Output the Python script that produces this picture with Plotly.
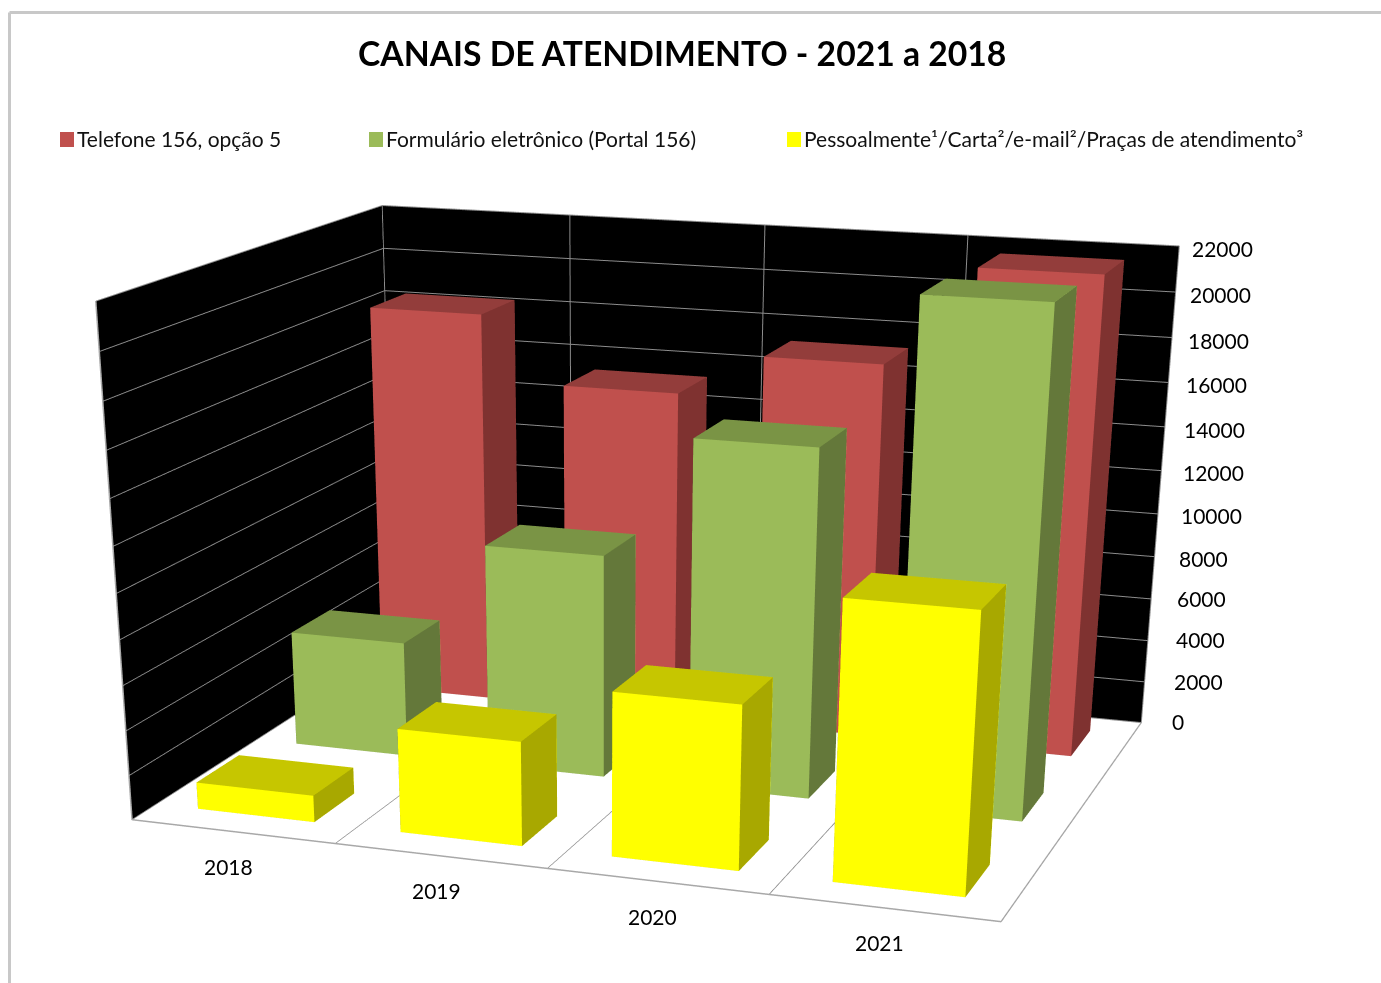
import plotly.graph_objects as go

# Chart content
TITLE = "CANAIS DE ATENDIMENTO - 2021 a 2018"
years = ["2018", "2019", "2020", "2021"]
series_names = ["Telefone 156, opção 5", "Formulário eletrônico (Portal 156)",
                "Pessoalmente¹/Carta²/e-mail²/Praças de atendimento³"]
telefone = [18300, 15300, 17200, 21600]
formulario = [5300, 10100, 15500, 22000]
pessoal = [1200, 4600, 7150, 11900]
z_ticks = list(range(0, 22001, 2000))

# Visible page area and full figure size. The figure runs past the bottom of the
# page because the scene lens has a fixed 45 degree angle: a taller scene gives a
# flatter perspective.
W, H = 1381, 983
FIG_H = 2600
SCENE_W = 1200
FONT = "Lato"

BAR_X = (0.21, 0.79)
SERIES_DEPTH = {"telefone": (2.34, 2.78), "formulario": (1.30, 1.74), "pessoal": (0.24, 0.68)}


def px(x):
    return x / W


def py(y):
    return 1 - y / FIG_H


def bar_mesh(values, depth, colours):
    """One Mesh3d holding a box per category, with flat front/side/top colours."""
    front, side, top = colours
    faces = [([0, 1, 5, 4], front), ([1, 2, 6, 5], side), ([4, 5, 6, 7], top),
             ([2, 3, 7, 6], front), ([3, 0, 4, 7], side), ([0, 3, 2, 1], top)]
    xs, ys, zs, i, j, k, fc = [], [], [], [], [], [], []
    for n, h in enumerate(values):
        x0, x1 = n + BAR_X[0], n + BAR_X[1]
        y0, y1 = depth
        base = len(xs)
        xs += [x0, x1, x1, x0] * 2
        ys += [y0, y0, y1, y1] * 2
        zs += [0] * 4 + [h] * 4
        for q, c in faces:
            i += [base + q[0], base + q[0]]
            j += [base + q[1], base + q[2]]
            k += [base + q[2], base + q[3]]
            fc += [c, c]
    return go.Mesh3d(x=xs, y=ys, z=zs, i=i, j=j, k=k, facecolor=fc, flatshading=True,
                     hoverinfo="skip",
                     lighting=dict(ambient=1, diffuse=0, specular=0, roughness=1, fresnel=0))


fig = go.Figure([
    bar_mesh(telefone, SERIES_DEPTH["telefone"], ("#C0504D", "#7F3230", "#933D3B")),
    bar_mesh(formulario, SERIES_DEPTH["formulario"], ("#9BBB59", "#64783A", "#7A9445")),
    bar_mesh(pessoal, SERIES_DEPTH["pessoal"], ("#FFFF00", "#A8A800", "#C6C600")),
])

axis = dict(showbackground=True, backgroundcolor="#000000", gridcolor="#8c8c8c", gridwidth=2,
            zeroline=False, showspikes=False, title=dict(text=""), showticklabels=False,
            showline=True, linecolor="#a8a8a8", linewidth=3, ticks="")

label_font = dict(family=FONT, size=21, color="black")
scene_notes = [dict(x=n + 0.5, y=0, z=0, text=t, showarrow=False, xshift=-4, yshift=-35, font=label_font)
               for n, t in enumerate(years)]
scene_notes += [dict(x=4, y=3, z=v, text=str(v), showarrow=False, xanchor="left",
                     xshift=29 - 18 * v / 22000, yshift=-1 - 2 * v / 22000 + 2 * (v < 8000),
                     font=label_font) for v in z_ticks]

# Legend keys and labels, the plot frame and the title sit on the page itself
legend_x = [60, 369, 787]
legend_colours = ["#C0504D", "#9BBB59", "#FFFF00"]
shapes = [dict(type="rect", xref="paper", yref="paper", x0=px(x), x1=px(x + 14),
               y0=py(147), y1=py(132), fillcolor=c, line=dict(width=0))
          for x, c in zip(legend_x, legend_colours)]
shapes += [
    dict(type="line", xref="paper", yref="paper", x0=px(9.5), x1=px(9.5), y0=py(12.5), y1=py(990),
         line=dict(color="#c8c8c8", width=3)),
    dict(type="line", xref="paper", yref="paper", x0=px(9.5), x1=px(1381), y0=py(12.5), y1=py(12.5),
         line=dict(color="#c8c8c8", width=3)),
]
page_notes = [dict(text=t, x=px(x + 15), y=py(139), xref="paper", yref="paper", showarrow=False,
                   xanchor="left", yanchor="middle", font=dict(family=FONT, size=21, color="#111111"))
              for t, x in zip(series_names, legend_x)]
page_notes.append(dict(text="<b>%s</b>" % TITLE, x=px(682), y=py(53), xref="paper", yref="paper",
                       showarrow=False, xanchor="center", yanchor="middle",
                       font=dict(family=FONT, size=33.7, color="black")))

fig.update_layout(
    width=W, height=FIG_H, margin=dict(l=0, r=0, t=0, b=0), paper_bgcolor="white",
    showlegend=False, shapes=shapes, annotations=page_notes,
    scene=dict(
        domain=dict(x=[0, SCENE_W / W], y=[0, 1]), aspectmode="manual",
        aspectratio=dict(x=1.771, y=1.349, z=1),
        camera=dict(eye=dict(x=2.017, y=-6.042, z=1.470), center=dict(x=-0.142, y=0.025, z=-1.782),
                    up=dict(x=0, y=0, z=1), projection=dict(type="perspective")),
        xaxis=dict(axis, range=[0, 4], tickvals=[0, 1, 2, 3, 4]),
        yaxis=dict(axis, range=[0, 3], tickvals=[], showgrid=False),
        zaxis=dict(axis, range=[0, 22000], tickvals=z_ticks, backgroundcolor="white"),
        annotations=scene_notes,
    ),
)
fig.write_html("out.html", config=dict(displayModeBar=False))
